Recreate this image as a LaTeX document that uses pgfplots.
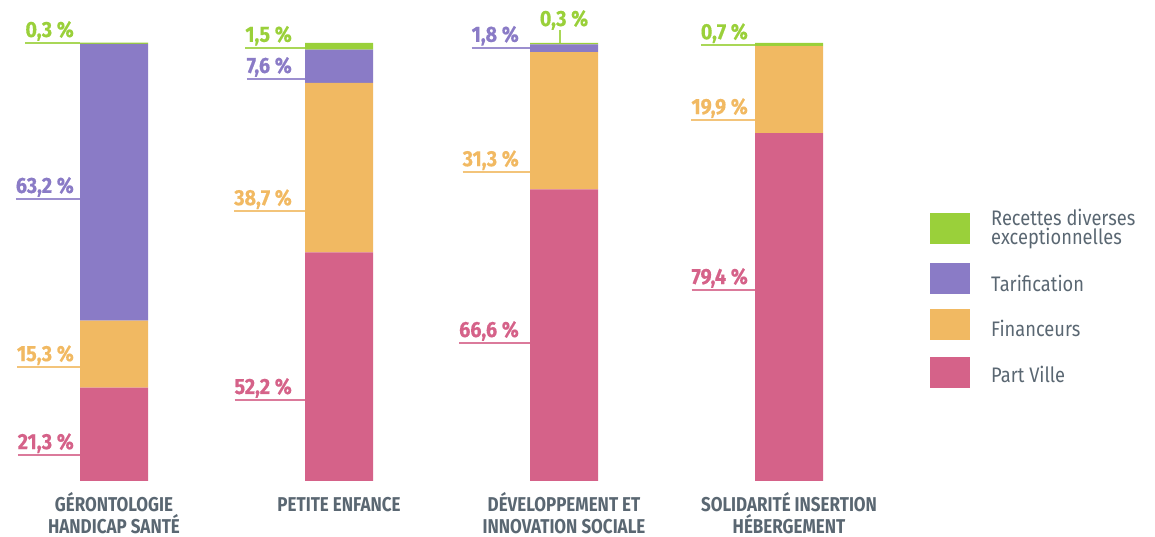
\documentclass[border=0pt]{standalone}
\usepackage{fontspec}
\setmainfont[FakeStretch=0.87]{Fira Sans}
\newfontfamily\catfam[FakeStretch=0.85]{Fira Sans}
\newfontfamily\numfam[FakeStretch=0.9,FakeBold=0.4]{Fira Sans}
\usepackage{pgfplots}
\pgfplotsset{compat=1.18}
\definecolor{cGreen}{HTML}{9AD03A}
\definecolor{cPurple}{HTML}{8A7BC6}
\definecolor{cOrange}{HTML}{F1B962}
\definecolor{cPink}{HTML}{D56289}
\definecolor{cText}{HTML}{5A6772}
\newcommand\labfont{\numfam\bfseries\fontsize{22}{24}\selectfont}
% text with its leader line underneath, reaching to the bar
% #1 gap to bar, #2 colour, #3 text
\newcommand\labbox[3]{{\color{#2!85}\vtop{\hbox{\color{#2}\smash{#3}\kern#1}\kern5pt\hrule height 2pt}}}
% #1 bar x, #2 y of leader line, #3 gap, #4 colour, #5 text
\newcommand\lab[5]{%
  \node[anchor=base east, inner sep=0pt, font=\labfont]
    at ([xshift=-34pt, yshift=6pt]axis cs:#1,#2) {\labbox{#3}{#4}{#5}};
}
\begin{document}
\begin{tikzpicture}
\path[use as bounding box] (0pt,-56pt) rectangle (1155pt,481pt);
\begin{axis}[
    scale only axis,
    width=900pt, height=438pt,
    xmin=-0.5067, xmax=3.4933,
    ymin=0, ymax=100,
    ybar stacked,
    bar width=68pt,
    clip=false,
    axis line style={draw=none},
    major tick length=0pt,
    ytick=\empty,
    xtick={0,1,2,3},
    xticklabels={GÉRONTOLOGIE\\HANDICAP SANTÉ,\vphantom{É}PETITE ENFANCE,DÉVELOPPEMENT ET\\INNOVATION SOCIALE,SOLIDARITÉ INSERTION\\HÉBERGEMENT},
    xticklabel style={align=center, text=cText, inner sep=0pt, yshift=-11.5pt,
        font=\catfam\bfseries\fontsize{20}{21.5}\selectfont},
]
% Part Ville, Financeurs, Tarification, Recettes diverses exceptionnelles
\addplot[fill=cPink, draw=none] coordinates {(0,21.3) (1,52.2) (2,66.6) (3,79.4)};
\addplot[fill=cOrange, draw=none] coordinates {(0,15.3) (1,38.7) (2,31.3) (3,19.9)};
\addplot[fill=cPurple, draw=none] coordinates {(0,63.2) (1,7.6) (2,1.8) (3,0)};
\addplot[fill=cGreen, draw=none] coordinates {(0,0.3) (1,1.5) (2,0.3) (3,0.7)};

\lab{0}{100}{6pt}{cGreen}{0,3 \%}
\lab{0}{64.4}{6pt}{cPurple}{63,2 \%}
\lab{0}{26.0}{6pt}{cOrange}{15,3 \%}
\lab{0}{5.9}{6pt}{cPink}{21,3 \%}

\lab{1}{98.9}{13pt}{cGreen}{1,5 \%}
\lab{1}{91.8}{13pt}{cPurple}{7,6 \%}
\lab{1}{61.6}{13pt}{cOrange}{38,7 \%}
\lab{1}{18.5}{13pt}{cPink}{52,2 \%}

\lab{2}{98.9}{11pt}{cPurple}{1,8 \%}
\lab{2}{70.5}{11pt}{cOrange}{31,3 \%}
\lab{2}{31.5}{11pt}{cPink}{66,6 \%}
\node[anchor=base, inner sep=0pt, text=cGreen, font=\labfont, yshift=17pt] at (axis cs:2,100) {0,3 \%};
\draw[cGreen!85, line width=2pt] ([xshift=-4pt]axis cs:2,100) -- ([xshift=-4pt,yshift=13pt]axis cs:2,100);

\lab{3}{99.5}{7pt}{cGreen}{0,7 \%}
\lab{3}{82.4}{7pt}{cOrange}{19,9 \%}
\lab{3}{43.6}{7pt}{cPink}{79,4 \%}
\end{axis}
% legend
\fill[cGreen]  (930pt,237pt) rectangle (970pt,268pt);
\fill[cPurple] (930pt,187pt) rectangle (970pt,218pt);
\fill[cOrange] (930pt,141pt) rectangle (970pt,172pt);
\fill[cPink]   (930pt,93pt)  rectangle (970pt,124pt);
\begin{scope}[every node/.style={anchor=base west, inner sep=0pt, text=cText, font=\fontsize{21}{19}\selectfont}]
\node at (991pt,255pt) {Recettes diverses};
\node at (991pt,236pt) {exceptionnelles};
\node at (991pt,189.3pt) {Tarification};
\node at (991pt,144.3pt) {Financeurs};
\node at (991pt,98pt) {Part Ville};
\end{scope}
\end{tikzpicture}
\end{document}
